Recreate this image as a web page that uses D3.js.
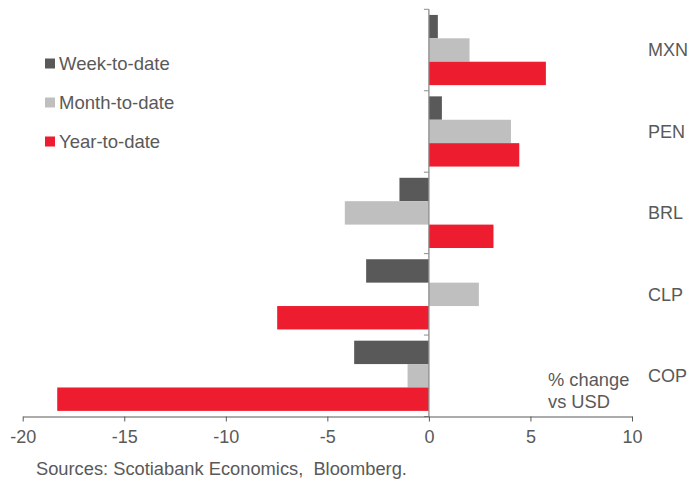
<!DOCTYPE html>
<html>
<head>
<meta charset="utf-8">
<script src="https://cdn.jsdelivr.net/npm/d3@7"></script>
<style>
  html, body { margin: 0; padding: 0; background: #fff; }
  svg { display: block; font-family: "Liberation Sans", Arial, sans-serif; }
</style>
</head>
<body>
<svg id="chart" width="691" height="484"></svg>
<script>
// Latin American currencies, % change vs USD
const currencies = ["MXN", "PEN", "BRL", "CLP", "COP"];
const seriesNames = ["Week-to-date", "Month-to-date", "Year-to-date"];
const weekToDate  = [0.44, 0.64, -1.45, -3.09, -3.68];
const monthToDate = [2.00, 4.04, -4.14, 2.46, -1.05];
const yearToDate  = [5.76, 4.45, 3.18, -7.47, -18.30];
const seriesColors = ["#595959", "#bfbfbf", "#ed1c2e"];
const xTicks = [-20, -15, -10, -5, 0, 5, 10];
const unitNote = ["% change", "vs USD"];
const sourceNote = "Sources: Scotiabank Economics,  Bloomberg.";

const seriesValues = [weekToDate, monthToDate, yearToDate];
const textColor = "#595959";

const svg = d3.select("#chart");
const margin = { top: 9.3, left: 22.7, right: 691 - 632, bottom: 484 - 416.5 };
const plotW = 691 - margin.left - margin.right;
const plotH = 484 - margin.top - margin.bottom;

const x = d3.scaleLinear().domain([-20, 10]).range([margin.left, margin.left + plotW]);
const y0 = d3.scaleBand().domain(currencies).range([margin.top, margin.top + plotH]).padding(0);
const y1 = d3.scaleBand().domain(seriesNames).range([0, y0.bandwidth()])
  .paddingInner(0).paddingOuter(0.24);

// Bars
const groups = svg.append("g").selectAll("g")
  .data(currencies)
  .join("g")
  .attr("transform", d => `translate(0,${y0(d)})`);

groups.selectAll("rect")
  .data((c, i) => seriesNames.map((s, j) => ({ series: s, value: seriesValues[j][i], color: seriesColors[j] })))
  .join("rect")
  .attr("x", d => x(Math.min(0, d.value)))
  .attr("width", d => Math.abs(x(d.value) - x(0)))
  .attr("y", d => y1(d.series))
  .attr("height", y1.bandwidth())
  .attr("fill", d => d.color);

// Vertical category axis at zero, with ticks between bands
const yAxisG = svg.append("g").attr("transform", `translate(${x(0)},0)`);
yAxisG.append("line")
  .attr("y1", margin.top).attr("y2", margin.top + plotH)
  .attr("stroke", "#8c8c8c").attr("stroke-width", 1.3);
const boundaries = currencies.map(c => y0(c)).concat([margin.top + plotH]);
yAxisG.selectAll("line.tick")
  .data(boundaries)
  .join("line")
  .attr("class", "tick")
  .attr("x1", -5).attr("x2", 0)
  .attr("y1", d => d).attr("y2", d => d)
  .attr("stroke", "#8c8c8c").attr("stroke-width", 1);

// Category labels on the right
svg.append("g").selectAll("text")
  .data(currencies)
  .join("text")
  .attr("x", 648)
  .attr("y", d => y0(d) + y0.bandwidth() / 2)
  .attr("dy", "0.35em")
  .attr("font-size", 18)
  .attr("fill", textColor)
  .text(d => d);

// Horizontal value axis
const xAxis = d3.axisBottom(x).tickValues(xTicks).tickSize(5).tickSizeOuter(0).tickPadding(9)
  .tickFormat(d3.format("d"));
const xAxisG = svg.append("g")
  .attr("transform", `translate(0,${margin.top + plotH})`)
  .call(xAxis);
xAxisG.select(".domain").attr("stroke", "#595959").attr("stroke-width", 1);
xAxisG.selectAll(".tick line").attr("stroke", "#595959");
xAxisG.selectAll(".tick text")
  .attr("font-size", 18)
  .attr("font-family", "Liberation Sans, Arial, sans-serif")
  .attr("fill", textColor)
  .text(d => d < 0 ? "-" + Math.abs(d) : String(d));

// Unit note
svg.append("text")
  .attr("x", 548).attr("y", 380).attr("dy", "0.35em")
  .attr("font-size", 18.3).attr("fill", textColor)
  .text(unitNote[0]);
svg.append("text")
  .attr("x", 548).attr("y", 401.7).attr("dy", "0.35em")
  .attr("font-size", 18.3).attr("fill", textColor)
  .text(unitNote[1]);

// Legend
const legend = svg.append("g").selectAll("g")
  .data(seriesNames)
  .join("g")
  .attr("transform", (d, i) => `translate(45,${63.5 + i * 39})`);
legend.append("rect")
  .attr("x", 0).attr("y", -5).attr("width", 10).attr("height", 10)
  .attr("fill", (d, i) => seriesColors[i]);
legend.append("text")
  .attr("x", 14).attr("y", 0).attr("dy", "0.35em")
  .attr("font-size", 18.5).attr("fill", textColor)
  .text(d => d);

// Source line
svg.append("text")
  .attr("x", 36).attr("y", 468.5).attr("dy", "0.35em")
  .attr("font-size", 18.3).attr("fill", textColor)
  .attr("xml:space", "preserve")
  .style("white-space", "pre")
  .text(sourceNote);
</script>
</body>
</html>
